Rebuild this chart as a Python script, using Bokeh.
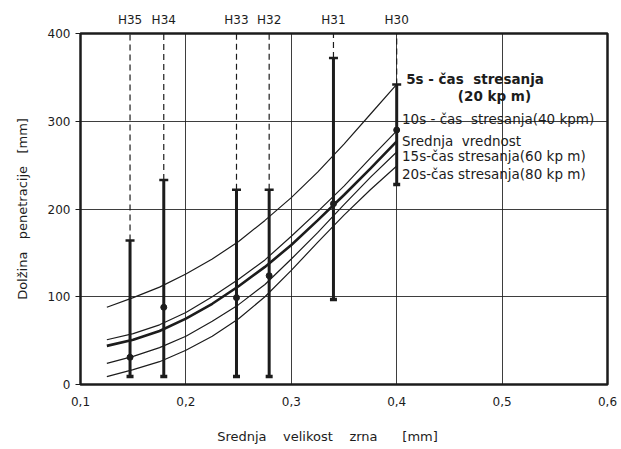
from bokeh.plotting import figure
from bokeh.models import Range1d, LinearAxis, FixedTicker, Label
from bokeh.embed import file_html
from bokeh.resources import INLINE

# ---------------- data ----------------
grain = [0.125, 0.15, 0.175, 0.2, 0.225, 0.25, 0.275, 0.3, 0.325, 0.35, 0.375, 0.4]
shake_5s = [88, 99, 111, 126, 143, 163, 187, 213, 242, 274, 308, 342]
shake_10s = [51, 58, 68, 82, 100, 120, 142, 169, 197, 226, 258, 289]
mean_curve = [44, 51, 61, 75, 92, 112, 134, 159, 187, 216, 246, 277]
shake_15s = [24, 32, 42, 55, 72, 91, 114, 143, 173, 205, 236, 265]
shake_20s = [9, 17, 26, 39, 55, 75, 100, 130, 162, 193, 222, 249]

bar_names = ["H35", "H34", "H33", "H32", "H31", "H30"]
bar_x = [0.147, 0.179, 0.248, 0.279, 0.340, 0.400]
bar_lo = [9, 9, 9, 9, 97, 228]
bar_hi = [164, 233, 222, 222, 372, 342]
bar_mid = [31, 88, 99, 124, 206, 290]

x_ticks = [0.1, 0.2, 0.3, 0.4, 0.5, 0.6]
x_tick_labels = ["0,1", "0,2", "0,3", "0,4", "0,5", "0,6"]
y_ticks = [0, 100, 200, 300, 400]

NB = "\u00a0"
legend_texts = [
    "5s - čas" + NB * 2 + "stresanja",
    "(20 kp m)",
    "10s - čas" + NB * 2 + "stresanja(40 kpm)",
    "Srednja" + NB * 2 + "vrednost",
    "15s-čas stresanja(60 kp m)",
    "20s-čas stresanja(80 kp m)",
]
x_title = "Srednja" + NB * 4 + "velikost" + NB * 4 + "zrna" + NB * 6 + "[mm]" + NB * 8
y_title = "Dolžina" + NB * 3 + "penetracije" + NB * 3 + "[mm]"

X_MIN, X_MAX, Y_MIN, Y_MAX = 0.1, 0.6, 0, 400
INK = "#1c1c1c"
FONT = "DejaVu Sans"

p = figure(width=621, height=449, x_range=Range1d(X_MIN, X_MAX), y_range=Range1d(Y_MIN, Y_MAX),
           output_backend="svg", toolbar_location=None,
           min_border_left=80, min_border_right=14, min_border_top=33, min_border_bottom=65)

p.background_fill_color = "white"
p.border_fill_color = "white"
p.outline_line_color = INK
p.outline_line_width = 2.5

# axes
xa = p.xaxis[0]
xa.ticker = FixedTicker(ticks=x_ticks)
xa.major_label_overrides = dict(zip(x_ticks, x_tick_labels))
ya = p.yaxis[0]
ya.ticker = FixedTicker(ticks=y_ticks)
for ax in (xa, ya):
    ax.axis_line_color = None
    ax.major_tick_in = 0
    ax.minor_tick_line_color = None
    ax.major_tick_line_color = INK
    ax.major_label_text_font = FONT
    ax.major_label_text_font_size = "12px"
    ax.major_label_text_color = INK
    ax.axis_label_text_font = FONT
    ax.axis_label_text_font_size = "13px"
    ax.axis_label_text_font_style = "normal"
    ax.axis_label_text_color = INK
xa.major_tick_out = 0
xa.major_label_standoff = 12
xa.axis_label = x_title
xa.axis_label_standoff = 20
ya.major_tick_out = 5
ya.major_label_standoff = 5
ya.axis_label = y_title
ya.axis_label_standoff = 15

top = LinearAxis(ticker=FixedTicker(ticks=bar_x),
                 major_label_overrides=dict(zip(bar_x, bar_names)))
top.axis_line_color = None
top.major_tick_line_color = None
top.major_tick_out = 0
top.major_tick_in = 0
top.minor_tick_line_color = None
top.major_label_standoff = 7
top.major_label_text_font = FONT
top.major_label_text_font_size = "12px"
top.major_label_text_color = INK
p.add_layout(top, "above")

p.xgrid.ticker = FixedTicker(ticks=x_ticks)
p.ygrid.ticker = FixedTicker(ticks=y_ticks)
for g in (p.xgrid, p.ygrid):
    g.grid_line_color = INK
    g.grid_line_width = 1
    g.grid_line_alpha = 0.85

# curves
for ys, w in ((shake_5s, 1.2), (shake_10s, 1.2), (shake_15s, 1.2), (shake_20s, 1.2), (mean_curve, 2.6)):
    p.line(grain, ys, line_color=INK, line_width=w)

# dashed leaders from the top
p.segment(x0=bar_x, y0=bar_hi, x1=bar_x, y1=[Y_MAX] * len(bar_x),
          line_color=INK, line_width=1.2, line_dash="6 4")
# range bars
p.segment(x0=bar_x, y0=bar_lo, x1=bar_x, y1=bar_hi, line_color=INK, line_width=3)
p.scatter(bar_x, bar_hi, marker="dash", size=9, line_color=INK, line_width=2.5)
p.scatter(bar_x, bar_lo, marker="dash", size=7, line_color=INK, line_width=3.5)
p.scatter(bar_x, bar_mid, marker="circle", size=6, fill_color=INK, line_color=INK)

# curve annotations
label_pos = [(0.409, 348, "bold"), (0.458, 329, "bold"), (0.405, 302, "normal"),
             (0.405, 278, "normal"), (0.405, 260, "normal"), (0.405, 240, "normal")]
for (lx, ly, st), txt in zip(label_pos, legend_texts):
    p.add_layout(Label(x=lx, y=ly, text=txt, text_font=FONT, text_font_size="13.5px",
                       text_font_style=st, text_color=INK, text_baseline="middle"))

open("out.html", "w").write(file_html(p, INLINE))
